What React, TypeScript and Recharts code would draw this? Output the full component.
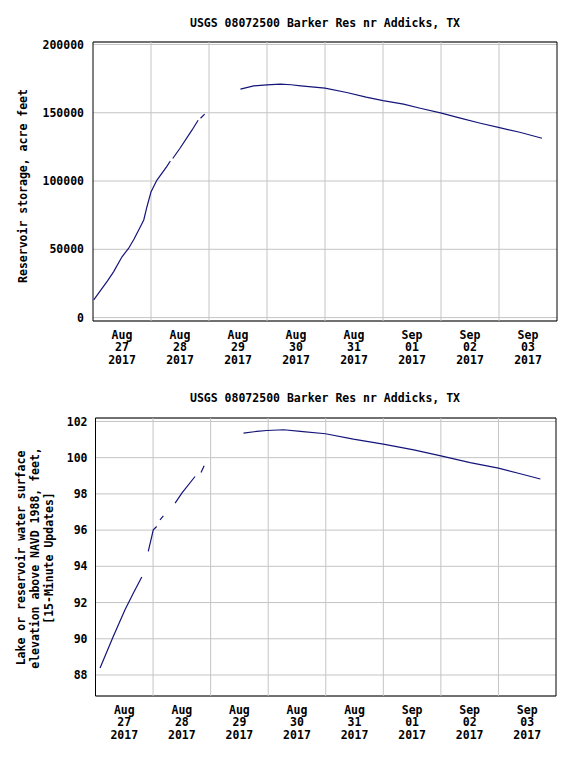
import React from 'react';
import { LineChart, Line, XAxis, YAxis, CartesianGrid, ReferenceLine, ReferenceArea } from 'recharts';

// hours since Aug 27 2017 00:00; null rows break the line where readings are missing
const storageHours = [0.3, 3, 6, 8.5, 12, 14.7, 17, 19.6, 21, 22.3, 24, 26.4, 30.5, 32, 32.5, 33, 36, 41, 43.5, 43.8, 44.5, 46.2, 47,
  61, 66.5, 72, 77.5, 82, 86, 96, 105, 113, 120, 128.5, 135.4, 144.2, 152, 160.3, 168.2, 176.6, 185.8];
const storageAcreFt = [13000, 19500, 26900, 33500, 44500, 50600, 57500, 66500, 71500, 81000, 92000, 100500, 110500, 114700, null, 116500, 124000, 137400, 144500, null, 146000, 149000, null,
  167300, 169700, 170400, 170900, 170500, 169700, 168000, 164800, 161400, 158900, 156300, 153300, 149700, 146000, 142300, 139100, 135700, 131300];

const elevHours = [1.9, 7.4, 12.3, 15.8, 19.3, 20, 22, 24.1, 25.5, 26, 26.9, 28.3, 29, 33.2, 36, 41.5, 42.5, 44, 45.3, 46,
  61.7, 67.2, 71.4, 78.5, 85.4, 95.9, 107.5, 120, 132.7, 144, 156.2, 168, 177.1, 185.5];
const elevFeet = [88.39, 90.13, 91.6, 92.53, 93.41, null, 94.82, 96.02, 96.2, null, 96.57, 96.79, null, 97.49, 98.04, 98.96, null, 99.18, 99.55, null,
  101.36, 101.45, 101.5, 101.54, 101.45, 101.32, 101.02, 100.75, 100.43, 100.1, 99.73, 99.42, 99.11, 98.82];

const tickMonths = ['Aug', 'Aug', 'Aug', 'Aug', 'Aug', 'Sep', 'Sep', 'Sep'];
const tickDays = ['27', '28', '29', '30', '31', '01', '02', '03'];
const tickYear = '2017';
const dayTicks = tickDays.map((_, i) => i * 24 + 12);
const midnights = [24, 48, 72, 96, 120, 144, 168];

const storageTicks = [0, 50000, 100000, 150000, 200000];
const elevTicks = [88, 90, 92, 94, 96, 98, 100, 102];

const title = 'USGS 08072500 Barker Res nr Addicks, TX';

const storageData = storageHours.map((h, i) => ({ h, v: storageAcreFt[i] }));
const elevData = elevHours.map((h, i) => ({ h, v: elevFeet[i] }));

const FONT = '"DejaVu Sans Mono", monospace';
const GRID = '#c4c4c4';
const LINE = '#14147a';

const textStyle: React.CSSProperties = {
  position: 'absolute',
  fontFamily: FONT,
  fontWeight: 'bold',
  fontSize: 11.5,
  color: '#000',
  whiteSpace: 'nowrap',
};

const DayTick = (props: any) => {
  const { x, y, payload } = props;
  const i = dayTicks.indexOf(payload.value);
  const lines = [tickMonths[i], tickDays[i], tickYear];
  return (
    <text x={x} y={y + 17.5} textAnchor="middle" fontFamily={FONT} fontWeight="bold" fontSize={11.5} fill="#000">
      {lines.map((t, k) => (
        <tspan key={k} x={x} dy={k === 0 ? 0 : 12.7}>{t}</tspan>
      ))}
    </text>
  );
};

const yTickStyle = { fontFamily: FONT, fontWeight: 'bold', fontSize: 11.5, fill: '#000' };

export default function App() {
  return (
    <div style={{ position: 'absolute', left: 0, top: 0, width: 572, height: 769, background: '#fff' }}>
      <div style={{ ...textStyle, left: 325, top: 23, transform: 'translate(-50%, -50%)' }}>{title}</div>
      <div style={{ ...textStyle, left: 23, top: 186, transform: 'translate(-50%, -50%) rotate(-90deg)' }}>
        Reservoir storage, acre feet
      </div>
      <div style={{ position: 'absolute', left: 0, top: 0 }}>
        <LineChart width={572} height={380} data={storageData} margin={{ top: 42, right: 15, bottom: 9, left: 0 }}>
          <CartesianGrid vertical={false} stroke={GRID} />
          {midnights.map((m) => (
            <ReferenceLine key={m} x={m} stroke={GRID} />
          ))}
          <XAxis dataKey="h" type="number" domain={[0, 192]} ticks={dayTicks} interval={0} height={50}
            tick={<DayTick />} tickLine={false} axisLine={false} tickSize={0} tickMargin={0} />
          <YAxis type="number" domain={[-2500, 201800]} ticks={storageTicks} width={93} interval={0}
            tick={yTickStyle} tickLine={false} axisLine={false} tickMargin={3} />
          <ReferenceArea x1={0} x2={192} y1={-2500} y2={201800} fill="none" stroke="#000" strokeWidth={1} />
          <Line dataKey="v" type="linear" stroke={LINE} strokeWidth={1.2} dot={false} connectNulls={false} isAnimationActive={false} />
        </LineChart>
      </div>

      <div style={{ ...textStyle, left: 325, top: 398, transform: 'translate(-50%, -50%)' }}>{title}</div>
      <div style={{ ...textStyle, left: 35, top: 558, textAlign: 'center', lineHeight: '14px', transform: 'translate(-50%, -50%) rotate(-90deg)' }}>
        Lake or reservoir water surface<br />
        elevation above NAVD 1988, feet,<br />
        [15-Minute Updates]
      </div>
      <div style={{ position: 'absolute', left: 0, top: 380 }}>
        <LineChart width={572} height={389} data={elevData} margin={{ top: 38, right: 16, bottom: 23, left: 0 }}>
          <CartesianGrid vertical={false} stroke={GRID} />
          {midnights.map((m) => (
            <ReferenceLine key={m} x={m} stroke={GRID} />
          ))}
          <XAxis dataKey="h" type="number" domain={[0, 192]} ticks={dayTicks} interval={0} height={50}
            tick={<DayTick />} tickLine={false} axisLine={false} tickSize={0} tickMargin={0} />
          <YAxis type="number" domain={[86.84, 102.19]} ticks={elevTicks} width={95.5} interval={0}
            tick={yTickStyle} tickLine={false} axisLine={false} tickMargin={2} />
          <ReferenceArea x1={0} x2={192} y1={86.84} y2={102.19} fill="none" stroke="#000" strokeWidth={1} />
          <Line dataKey="v" type="linear" stroke={LINE} strokeWidth={1.2} dot={false} connectNulls={false} isAnimationActive={false} />
        </LineChart>
      </div>
    </div>
  );
}
